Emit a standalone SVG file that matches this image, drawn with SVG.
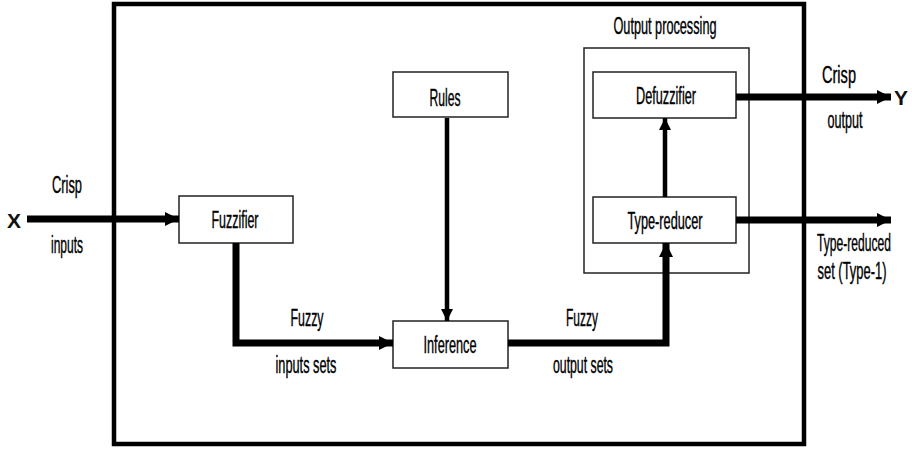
<svg xmlns="http://www.w3.org/2000/svg" width="912" height="450" viewBox="0 0 912 450">
<defs>
<style>
.t{font-family:"Liberation Sans",Arial,sans-serif;font-size:23px;fill:#000;stroke:#000;stroke-width:0.4;text-anchor:middle}
.box{fill:#fff;stroke:#222;stroke-width:1.5}
.thick{fill:none;stroke:#000;stroke-width:7}
.thin{fill:none;stroke:#000;stroke-width:4.5}
.xy{font-family:"Liberation Sans",Arial,sans-serif;font-size:21px;font-weight:bold;fill:#111;text-anchor:middle}
</style>
<marker id="ah" viewBox="0 0 10 10" refX="10" refY="5" markerUnits="userSpaceOnUse" markerWidth="14" markerHeight="16" orient="auto">
<path d="M0,0 L10,5 L0,10 Z" fill="#000"/>
</marker>
<marker id="ahs" viewBox="0 0 10 10" refX="10" refY="5" markerUnits="userSpaceOnUse" markerWidth="13" markerHeight="12" orient="auto">
<path d="M0,0 L10,5 L0,10 Z" fill="#000"/>
</marker>
</defs>
<rect width="912" height="450" fill="#fff"/>
<g id="system">
<rect x="114" y="4" width="690" height="440" fill="none" stroke="#000" stroke-width="4.5"/>
</g>
<g id="output-processing">
<rect x="584" y="48" width="165" height="225" class="box"/>
<text x="665" y="34" class="t" textLength="103" lengthAdjust="spacingAndGlyphs">Output processing</text>
</g>
<g id="fuzzifier">
<rect x="179" y="196" width="114" height="47" class="box"/>
<text x="235" y="228" class="t" textLength="47" lengthAdjust="spacingAndGlyphs">Fuzzifier</text>
</g>
<g id="rules">
<rect x="393" y="72" width="115" height="45" class="box"/>
<text x="445" y="106" class="t" textLength="31" lengthAdjust="spacingAndGlyphs">Rules</text>
</g>
<g id="inference">
<rect x="393" y="321" width="115" height="47" class="box"/>
<text x="450" y="353" class="t" textLength="53" lengthAdjust="spacingAndGlyphs">Inference</text>
</g>
<g id="defuzzifier">
<rect x="593" y="72" width="143" height="46" class="box"/>
<text x="666" y="104" class="t" textLength="60" lengthAdjust="spacingAndGlyphs">Defuzzifier</text>
</g>
<g id="type-reducer">
<rect x="593" y="197" width="143" height="46" class="box"/>
<text x="665" y="229" class="t" textLength="75" lengthAdjust="spacingAndGlyphs">Type-reducer</text>
</g>
<g id="connectors">
<line x1="27" y1="219" x2="179" y2="219" class="thick" marker-end="url(#ah)"/>
<polyline points="236,243 236,343 393,343" class="thick" marker-end="url(#ah)"/>
<line x1="447" y1="118" x2="447" y2="321" class="thin" marker-end="url(#ahs)"/>
<polyline points="508,343 666,343 666,243" class="thick" marker-end="url(#ah)"/>
<line x1="665" y1="197" x2="665" y2="118" class="thin" marker-end="url(#ahs)"/>
<line x1="736" y1="97" x2="891" y2="97" class="thick" marker-end="url(#ah)"/>
<line x1="736" y1="220" x2="891" y2="220" class="thick" marker-end="url(#ah)"/>
</g>
<g id="labels">
<text x="14" y="228" class="xy">X</text>
<text x="901" y="105" class="xy">Y</text>
<text x="67" y="193" class="t" textLength="30" lengthAdjust="spacingAndGlyphs">Crisp</text>
<text x="67" y="253" class="t" textLength="32" lengthAdjust="spacingAndGlyphs">inputs</text>
<text x="307" y="326" class="t" textLength="33" lengthAdjust="spacingAndGlyphs">Fuzzy</text>
<text x="306" y="373" class="t" textLength="61" lengthAdjust="spacingAndGlyphs">inputs sets</text>
<text x="582" y="326" class="t" textLength="32" lengthAdjust="spacingAndGlyphs">Fuzzy</text>
<text x="583" y="373" class="t" textLength="60" lengthAdjust="spacingAndGlyphs">output sets</text>
<text x="839" y="83" class="t" textLength="34" lengthAdjust="spacingAndGlyphs">Crisp</text>
<text x="845" y="128" class="t" textLength="35" lengthAdjust="spacingAndGlyphs">output</text>
<text class="t" transform="translate(854,251) scale(0.52,1)" x="0" y="0" textLength="142" lengthAdjust="spacingAndGlyphs">Type-reduced</text>
<text class="t" transform="translate(852,279) scale(0.556,1)" x="0" y="0" textLength="124" lengthAdjust="spacingAndGlyphs">set (Type-1)</text>
</g>
</svg>
